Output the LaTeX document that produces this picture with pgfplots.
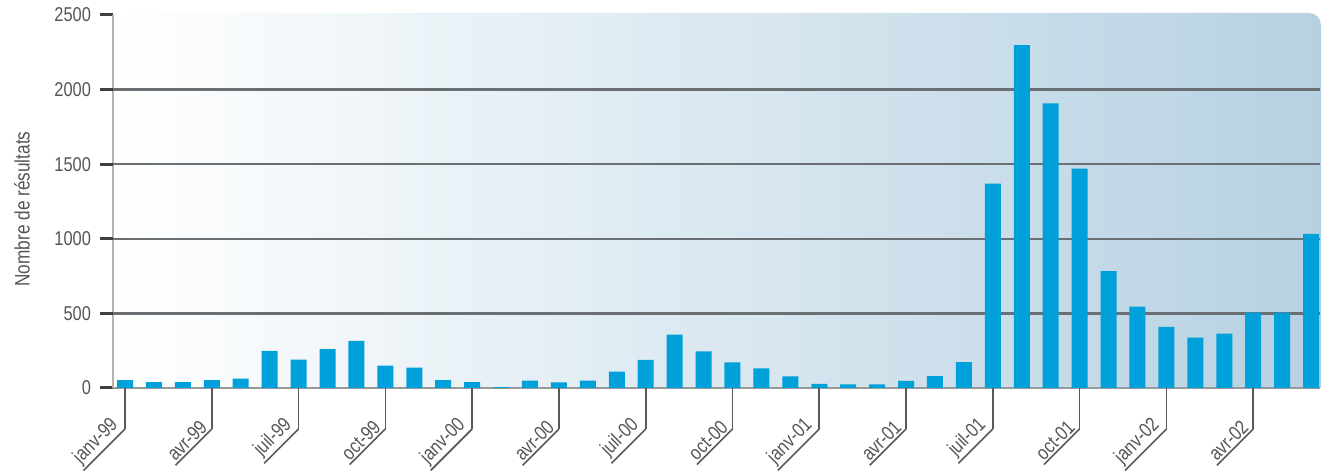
\documentclass[border=0pt]{standalone}
\usepackage{pgfplots}
\pgfplotsset{compat=1.18}
\usepackage{fontspec}
\setmainfont{Liberation Sans}[FakeStretch=0.82]
\definecolor{barblue}{HTML}{00A0DA}
\definecolor{bgblue}{HTML}{B6D1E2}
\definecolor{bgmid}{HTML}{E2E9EF}
\definecolor{txt}{HTML}{555555}
\definecolor{gridc}{HTML}{6A6F73}
\begin{document}
\begin{tikzpicture}
\useasboundingbox (0,0) rectangle (661.5pt,237pt);
\begin{scope}
\clip (56.5pt,43pt) rectangle (661.5pt,240pt);
\shade[rounded corners=6pt, left color=white, middle color=bgmid, right color=bgblue] (56.5pt,30pt) rectangle (660.5pt,230.5pt);
\end{scope}
\begin{axis}[
  at={(56.5pt,43pt)}, anchor=south west, scale only axis,
  width=603.5pt, height=186.5pt,
  xmin=-0.415, xmax=41.31, ymin=0, ymax=2500,
  xtick=\empty,
  ytick={0,500,1000,1500,2000,2500},
  yticklabels={0,500,1000,1500,2000,2500},
  extra y ticks={500,1000,1500,2000},
  extra y tick labels={},
  extra y tick style={grid=major, major grid style={draw=gridc, line width=1.2pt}},
  axis x line*=bottom, axis y line*=left,
  x axis line style={draw=gray!80, line width=1.2pt, -},
  y axis line style={draw=gray!60, line width=1.2pt, -},
  tick align=outside, major tick length=6.5pt,
  y tick style={draw=black!75, line width=1.5pt},
  yticklabel style={text=txt, font=\fontsize{10}{12}\selectfont, xshift=-1pt},
  ylabel={Nombre de résultats},
  ylabel style={at={(axis description cs:-0.0754,0.48)}, anchor=center, text=txt, font=\fontsize{10.5}{12}\selectfont},
  clip=false,
]
\addplot[ybar, bar width=8pt, fill=barblue, draw=none] coordinates {
(0,52) (1,40) (2,40) (3,52) (4,63) (5,248) (6,190) (7,261) (8,315) (9,150)
(10,136) (11,52) (12,40) (13,5) (14,49) (15,38) (16,49) (17,109) (18,188) (19,357)
(20,246) (21,172) (22,132) (23,78) (24,27) (25,25) (26,25) (27,47) (28,80) (29,174)
(30,1370) (31,2298) (32,1908) (33,1470) (34,784) (35,546) (36,410) (37,338) (38,365) (39,505)
(40,505) (41,1033)
};
\pgfplotsinvokeforeach{0,3,...,39}{\coordinate (t#1) at (axis cs:#1,0);}
\end{axis}
\foreach \i/\l in {0/janv-99,3/avr-99,6/juil-99,9/oct-99,12/janv-00,15/avr-00,18/juil-00,21/oct-00,24/janv-01,27/avr-01,30/juil-01,33/oct-01,36/janv-02,39/avr-02}{
  \draw[draw=black!65, line width=0.8pt] (t\i) -- ++(0,-20.5pt) coordinate (c)
    node[rotate=45, anchor=south east, inner sep=0.8pt, text=txt, font=\fontsize{10}{12}\selectfont] (L) {\l};
  \draw[black!65, line width=0.8pt] (c) -- (L.south west);
}
\end{tikzpicture}
\end{document}
